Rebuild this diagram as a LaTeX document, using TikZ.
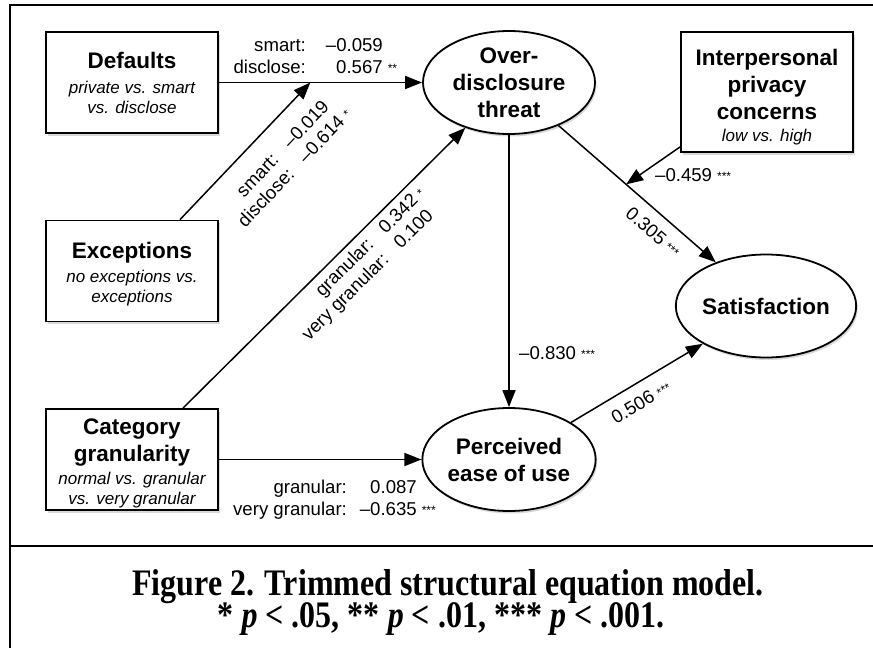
\documentclass[tikz,border=0pt]{standalone}
\usepackage{fontspec}
\setmainfont{Liberation Sans}
\newfontfamily\capfont{Liberation Serif}
\usepackage{graphicx}
\usetikzlibrary{arrows.meta,shapes.geometric,shadows,calc}

% bold heading line and italic sub-line inside the boxes
\newcommand\ttl[1]{{\fontsize{22.5}{27}\selectfont\bfseries #1}}
\newcommand\sbt[1]{{\itshape #1}}
% significance stars: inline, and hanging to the right of a column
\newcommand\sig[1]{\hspace{5pt}\raisebox{1pt}{\fontsize{12}{12}\selectfont #1}}
\newcommand\sigl[1]{\rlap{\sig{#1}}}

\begin{document}
\begin{tikzpicture}[x=1pt,y=-1pt,
  box/.style={draw,line width=1.8pt,fill=white,minimum width=172pt,minimum height=101pt,
    inner sep=0pt,align=center,font={\fontsize{17}{20}\selectfont\lineskiplimit=-50pt},
    drop shadow={shadow xshift=1.5pt,shadow yshift=-2.5pt,opacity=0.3}},
  lat/.style={ellipse,draw,line width=1.8pt,fill=white,minimum width=172pt,minimum height=103pt,
    inner sep=0pt,align=center,font={\fontsize{22.5}{27}\selectfont\bfseries\lineskiplimit=-50pt},
    drop shadow={shadow xshift=1.5pt,shadow yshift=-2.5pt,opacity=0.3}},
  arr/.style={line width=1.5pt,-{Triangle[length=17pt,width=13pt]}},
  lbl/.style={font=\fontsize{18.6}{21.5}\selectfont,inner sep=0pt},
  frameline/.style={line width=2.8pt},
  captext/.style={font=\capfont\bfseries\fontsize{32}{32}\selectfont,anchor=base,inner sep=0pt},
]
\useasboundingbox (0,0) rectangle (873,648);

% outer frame and caption rule
\draw[frameline] (873,5) -- (10,5) -- (10,648);
\draw[frameline] (10,546) -- (873,546);

% observed variables
\node[box] (def) at (132,82.5) {\ttl{\rule{0pt}{18pt}Defaults}\\[5pt]\sbt{private vs. smart}\\\sbt{vs. disclose}};
\node[box] (exc) at (132,271) {\ttl{\rule{0pt}{22pt}Exceptions}\\[4pt]\sbt{no exceptions vs.}\\\sbt{exceptions}};
\node[box] (cat) at (132,459.5) {\ttl{\rule{0pt}{24pt}Category}\\[7pt]\ttl{granularity}\\[3pt]\sbt{normal vs. granular}\\\sbt{vs. very granular}};
\node[box,minimum height=120pt] (ipc) at (767,92) {\ttl{\rule{0pt}{26pt}Interpersonal}\\[7pt]\ttl{privacy}\\[7pt]\ttl{concerns}\\[2pt]\sbt{low vs. high}};

% latent constructs
\node[lat] (over) at (509,82.5) {Over-\\disclosure\\threat};
\node[lat] (sat) at (766,306) {Satisfaction};
\node[lat] (peu) at (509,459.5) {Perceived\\ease of use};

% paths
\draw[arr] (def) -- coordinate[pos=0.45] (dm) (over);
\node[lbl,anchor=base east] (ldef) at (383,73)
  {\begin{tabular}[b]{@{}r@{\hspace{20pt}}r@{}}smart: & –0.059\\ disclose: & 0.567\sigl{**}\end{tabular}};

\draw[arr] ([xshift=48pt]exc.north) -- node[lbl,sloped,below=16pt,pos=0.59] (lexc)
  {\begin{tabular}{@{}r@{\hspace{16pt}}r@{}}smart: & –0.019\\ disclose: & –0.614\sigl{*}\end{tabular}} (dm);

\draw[arr] ([xshift=51pt]cat.north) -- node[lbl,sloped,below=4pt,pos=0.565] (lcatover)
  {\begin{tabular}{@{}r@{\hspace{16pt}}r@{}}granular: & 0.342\sigl{*}\\ very granular: & 0.100\end{tabular}} (over.226);

\draw[arr] (cat) -- (peu);
\node[lbl,anchor=base east] (lcat) at (417,515)
  {\begin{tabular}[b]{@{}r@{\hspace{13pt}}r@{}}granular: & 0.087\\ very granular: & –0.635\sigl{***}\end{tabular}};

\draw[arr] (over) -- coordinate[pos=0.43] (om)
  node[lbl,sloped,below=11pt,pos=0.68] (loversat) {0.305\sig{***}} (sat);
\draw[arr] ([yshift=6pt]ipc.south west) -- (om);
\node[lbl,anchor=base west] (lipc) at (655,181) {–0.459\sig{***}};

\draw[arr] (over) -- (peu);
\node[lbl,anchor=base west] (loverpeu) at (519,359) {–0.830\sig{***}};

\draw[arr] (peu) -- node[lbl,sloped,below=11pt,pos=0.46] (lpeusat) {0.506\sig{***}} (sat);

% caption
\node[captext] (cap1) at (448,595) {\scalebox{1}[1.17]{Figure 2. Trimmed structural equation model.}};
\node[captext] (cap2) at (441,627) {\scalebox{1}[1.17]{* \textit{p} < .05, ** \textit{p} < .01, *** \textit{p} < .001.}};
\end{tikzpicture}
\end{document}
